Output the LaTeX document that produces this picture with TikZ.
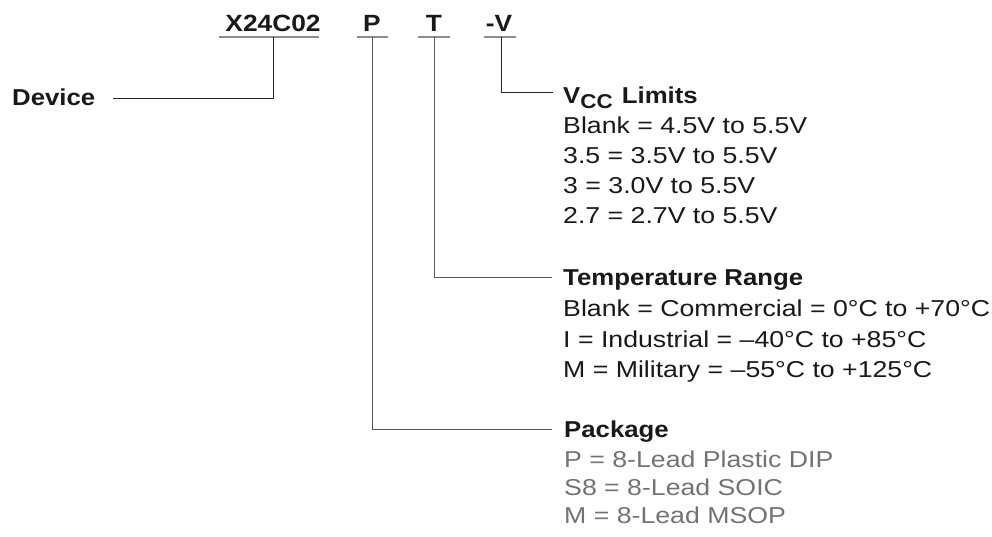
\documentclass[tikz,border=0pt]{standalone}
\usepackage{fontspec}
\setmainfont{Liberation Sans}[FakeStretch=1.12]
\newfontfamily\regfont{Liberation Sans}[FakeStretch=1.16]
\begin{document}
\begin{tikzpicture}[x=1pt,y=-1pt,
  txt/.style={anchor=base west,inner sep=0pt,font=\regfont\fontsize{23}{23}\selectfont,text=black!90},
  head/.style={anchor=base west,inner sep=0pt,font=\fontsize{23}{23}\selectfont\bfseries,text=black!90},
  code/.style={anchor=base,inner sep=0pt,font=\fontsize{23.5}{23.5}\selectfont\bfseries,text=black!90},
  gtxt/.style={txt,text=black!55},
  uline/.style={draw=black!45,line width=1.4pt},
  conn/.style={draw=black!85,line width=0.9pt}]
\useasboundingbox (0,0) rectangle (992,537);
% part number
\node[code] (xc) at (273,32) {X24C02};
\node[code] (pc) at (372,32) {P};
\node[code] (tc) at (434,32) {T};
\node[code] (vc) at (499,32) {-V};
\coordinate (xu) at (273,37);
\coordinate (pu) at (372,37);
\coordinate (tu) at (434,37);
\coordinate (vu) at (501,37);
\draw[uline] (219,37) -- (319,37);
\draw[uline] (357,37) -- (388,37);
\draw[uline] (418,37) -- (450,37);
\draw[uline] (484,37) -- (516,37);
% device
\node[head] (dev) at (12,106) {Device};
\coordinate (devend) at (113,98);
\draw[conn] (xu) |- (devend);
% Vcc
\coordinate (vend) at (553,92);
\draw[conn] (vu) |- (vend);
\node[head] (vh) at (563,104) {V\raisebox{-5pt}{\fontsize{20}{20}\selectfont CC}\hspace{2pt} Limits};
\node[txt] (v1) at (563,134) {Blank = 4.5V to 5.5V};
\node[txt] (v2) at (563,164) {3.5 = 3.5V to 5.5V};
\node[txt] (v3) at (563,194) {3 = 3.0V to 5.5V};
\node[txt] (v4) at (563,223) {2.7 = 2.7V to 5.5V};
% temperature
\coordinate (tend) at (552,277);
\draw[conn,draw=black!65] (tu) |- (tend);
\node[head] (th) at (563,285) {Temperature Range};
\node[txt] (t1) at (563,316) {Blank = Commercial = 0°C to +70°C};
\node[txt] (t2) at (563,347) {I = Industrial = –40°C to +85°C};
\node[txt] (t3) at (563,377) {M = Military = –55°C to +125°C};
% package
\coordinate (kend) at (552,429);
\draw[conn,draw=black!65] (pu) |- (kend);
\node[head] (kh) at (564,437) {Package};
\node[gtxt] (k1) at (564,467) {P = 8-Lead Plastic DIP};
\node[gtxt] (k2) at (564,495) {S8 = 8-Lead SOIC};
\node[gtxt] (k3) at (564,523) {M = 8-Lead MSOP};
\end{tikzpicture}
\end{document}
